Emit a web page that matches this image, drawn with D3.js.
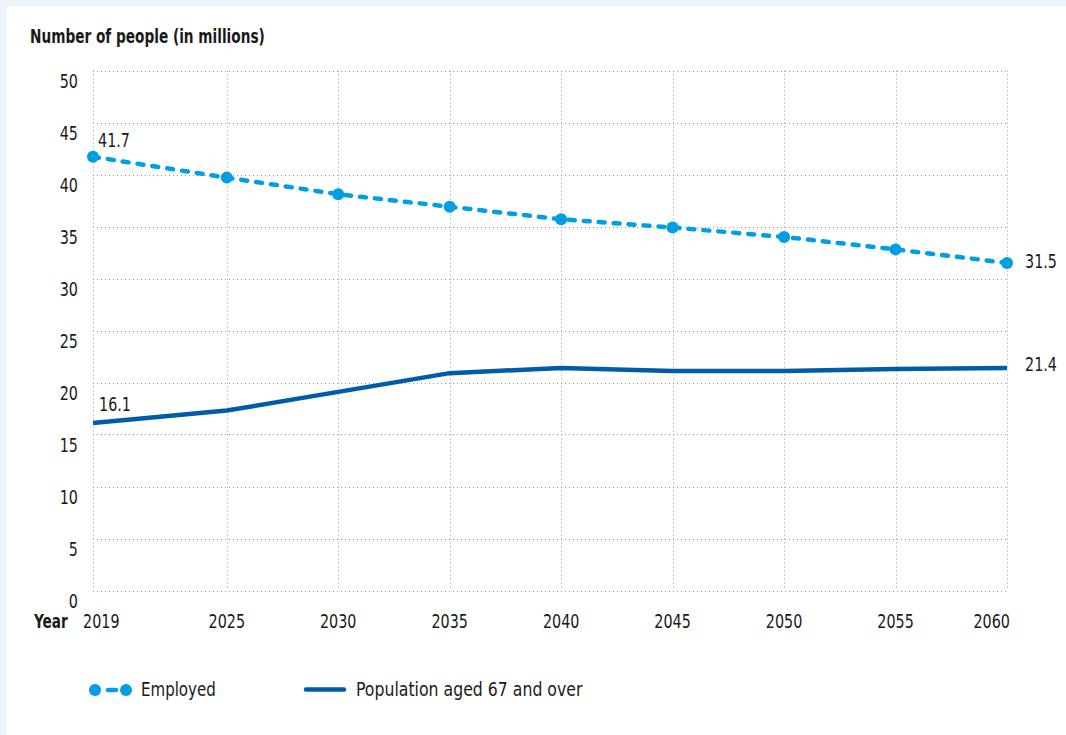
<!DOCTYPE html>
<html>
<head>
<meta charset="utf-8">
<script src="https://cdn.jsdelivr.net/npm/d3@7"></script>
<style>
  html, body { margin: 0; padding: 0; background: #eaf5fc; }
  svg { display: block; }
  text { font-family: "Liberation Sans Narrow", "DejaVu Sans Condensed", "Roboto", sans-serif; fill: #1a1a1a; }
</style>
</head>
<body>
<svg id="chart" width="1066" height="735"></svg>
<script>
const years = [2019, 2025, 2030, 2035, 2040, 2045, 2050, 2055, 2060];
const employed = [41.7, 39.7, 38.1, 36.9, 35.7, 34.9, 34.0, 32.8, 31.5];
const population67 = [16.1, 17.3, 19.1, 20.9, 21.4, 21.1, 21.1, 21.3, 21.4];
const yTicks = [0, 5, 10, 15, 20, 25, 30, 35, 40, 45, 50];
const seriesNames = ["Employed", "Population aged 67 and over"];
const yTitle = "Number of people (in millions)";
const xTitle = "Year";

const colEmp = "#009fe3";
const colPop = "#005ca9";

const svg = d3.select("#chart");
svg.append("rect").attr("x", 7).attr("y", 6).attr("width", 1059).attr("height", 729).attr("fill", "#ffffff");

// condensed text helper (horizontal squeeze to mimic a narrow face)
function label(g, px, py, str, opt) {
  opt = opt || {};
  return g.append("text")
    .attr("transform", `translate(${px},${py}) scale(${opt.sx || 0.84},1)`)
    .attr("text-anchor", opt.anchor || "start")
    .attr("font-size", opt.size || 19)
    .attr("font-weight", opt.bold ? "bold" : "normal")
    .text(str);
}

const x = d3.scaleLinear().domain([2019, 2060]).range([93, 1007]);
const y = d3.scaleLinear().domain([0, 50]).range([590.5, 70.5]);

const grid = svg.append("g");
grid.selectAll("line.h").data(yTicks).join("line")
  .attr("x1", x(2019)).attr("x2", x(2060))
  .attr("y1", d => Math.round(y(d)) + 0.5).attr("y2", d => Math.round(y(d)) + 0.5)
  .attr("stroke", "#9a9a9a").attr("stroke-width", 1).attr("stroke-dasharray", "1,3");
grid.selectAll("line.v").data(years).join("line")
  .attr("x1", d => Math.round(x(d)) + 0.5).attr("x2", d => Math.round(x(d)) + 0.5)
  .attr("y1", y(50)).attr("y2", y(0))
  .attr("stroke", "#9a9a9a").attr("stroke-width", 1).attr("stroke-dasharray", "1,3");

const axG = svg.append("g");
yTicks.forEach(t => label(axG, 78, y(t) + 17, t, { anchor: "end" }));
years.forEach((yr, i) => {
  const first = i === 0, lastI = i === years.length - 1;
  label(axG, first ? x(yr) - 10 : (lastI ? x(yr) + 3 : x(yr)), 628, yr,
        { anchor: first ? "start" : (lastI ? "end" : "middle") });
});

label(svg, 34, 628, xTitle, { bold: true, sx: 0.8 });
label(svg, 30, 43, yTitle, { bold: true, sx: 0.8 });

const lineGen = d3.line().x((d, i) => x(years[i])).y(d => y(d));

svg.append("path").datum(population67)
  .attr("d", lineGen).attr("fill", "none")
  .attr("stroke", colPop).attr("stroke-width", 4.5).attr("stroke-linejoin", "round");

svg.append("path").datum(employed)
  .attr("d", lineGen).attr("fill", "none")
  .attr("stroke", colEmp).attr("stroke-width", 4.5)
  .attr("stroke-dasharray", "6,9").attr("stroke-linecap", "round");

svg.append("g").selectAll("circle").data(employed).join("circle")
  .attr("cx", (d, i) => x(years[i])).attr("cy", d => y(d)).attr("r", 6)
  .attr("fill", colEmp);

const last = years.length - 1;
const dl = svg.append("g");
label(dl, x(years[0]) + 5, y(employed[0]) - 9.5, employed[0].toFixed(1));
label(dl, x(years[0]) + 6, y(population67[0]) - 12, population67[0].toFixed(1));
label(dl, x(years[last]) + 18, y(employed[last]) + 5, employed[last].toFixed(1));
label(dl, x(years[last]) + 18, y(population67[last]) + 3, population67[last].toFixed(1));

const lg = svg.append("g");
lg.append("line").attr("x1", 108).attr("x2", 116).attr("y1", 690).attr("y2", 690)
  .attr("stroke", colEmp).attr("stroke-width", 4.5).attr("stroke-linecap", "round");
lg.append("circle").attr("cx", 95).attr("cy", 690).attr("r", 6).attr("fill", colEmp);
lg.append("circle").attr("cx", 126).attr("cy", 690).attr("r", 6).attr("fill", colEmp);
label(lg, 141, 696, seriesNames[0], { sx: 0.88 });
lg.append("line").attr("x1", 306).attr("x2", 344).attr("y1", 689.5).attr("y2", 689.5)
  .attr("stroke", colPop).attr("stroke-width", 4.5).attr("stroke-linecap", "round");
label(lg, 356, 696, seriesNames[1], { sx: 0.92 });
</script>
</body>
</html>
